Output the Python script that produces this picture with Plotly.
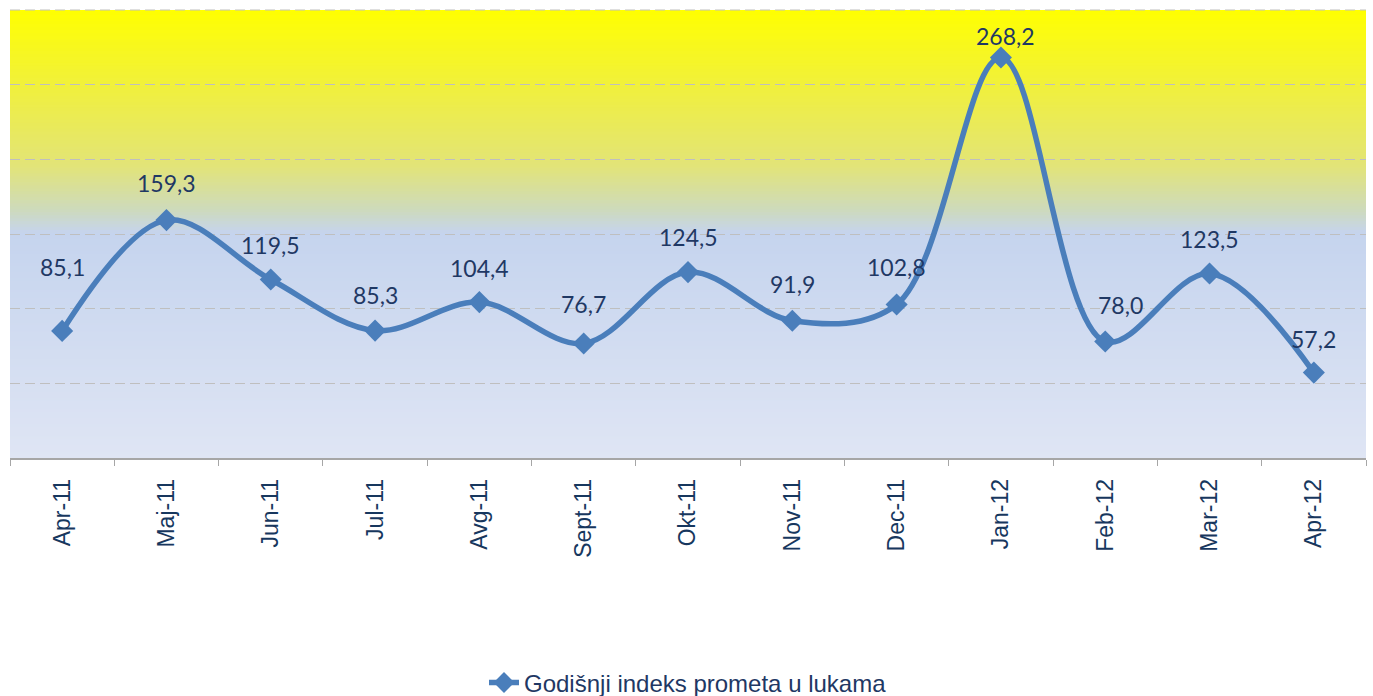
import plotly.graph_objects as go

categories = ["Apr-11", "Maj-11", "Jun-11", "Jul-11", "Avg-11", "Sept-11", "Okt-11",
              "Nov-11", "Dec-11", "Jan-12", "Feb-12", "Mar-12", "Apr-12"]
values = [85.1, 159.3, 119.5, 85.3, 104.4, 76.7, 124.5, 91.9, 102.8, 268.2, 78.0, 123.5, 57.2]
series_name = "Godišnji indeks prometa u lukama"

# label offsets (px) relative to each point
label_yshift = [64, 37, 35, 36, 34, 39, 35, 37, 37, 21, 37, 35, 34]
label_xshift = [0, 0, 0, 0, 0, 0, 0, 0, 0, 5, 15, 0, 0]

line_color = "#4a7ebb"
label_color = "#1f3864"
grid_color = "#bfbfbf"
grid_dash = "10px,5px"

fig = go.Figure()
fig.add_trace(go.Scatter(
    x=categories, y=values, mode="lines+markers", name=series_name,
    line=dict(color=line_color, width=5.5, shape="spline", smoothing=1.0),
    marker=dict(symbol="diamond", size=17, color=line_color),
))

def fmt(v):
    return f"{v:.1f}".replace(".", ",")

annotations = []
for c, v, ys, xs in zip(categories, values, label_yshift, label_xshift):
    annotations.append(dict(x=c, y=v, xref="x", yref="y", text=fmt(v), showarrow=False,
                            yshift=ys, xshift=xs,
                            font=dict(family="Lato", size=23, color=label_color)))

# gradient background
stops = [(0.0, (255, 255, 0)), (0.2, (238, 238, 70)), (0.35, (226, 228, 120)),
         (0.45, (205, 218, 190)), (0.5, (197, 212, 238)), (1.0, (223, 229, 244))]
def col(t):
    for (t0, c0), (t1, c1) in zip(stops[:-1], stops[1:]):
        if t0 <= t <= t1:
            f = (t - t0) / (t1 - t0) if t1 > t0 else 0
            return "rgb(%d,%d,%d)" % tuple(round(a + (b - a) * f) for a, b in zip(c0, c1))
    return "rgb(%d,%d,%d)" % stops[-1][1]

shapes = []
N = 150
for i in range(N):
    y1 = 1 - i / N
    y0 = 1 - (i + 1) / N
    t = (i + 0.5) / N
    shapes.append(dict(type="rect", xref="paper", yref="paper", x0=0, x1=1, y0=y0,
                       y1=min(1, y1 + 0.002),
                       fillcolor=col(t), line=dict(width=0), layer="below"))
# top gridline at the upper edge of the value range
shapes.append(dict(type="line", xref="paper", yref="paper", x0=0, x1=1, y0=1, y1=1,
                   line=dict(color=grid_color, width=1.2, dash=grid_dash), layer="below"))

fig.update_layout(
    width=1373, height=696,
    margin=dict(l=10, r=7, t=10, b=238, autoexpand=False),
    paper_bgcolor="white", plot_bgcolor="rgba(0,0,0,0)",
    shapes=shapes, annotations=annotations,
    showlegend=True,
    legend=dict(orientation="h", x=0.5, xanchor="center", y=-0.502, yanchor="middle",
                font=dict(family="Liberation Sans, Arial", size=24, color=label_color),
                bgcolor="rgba(0,0,0,0)"),
    xaxis=dict(type="category", range=[-0.5, 12.5], tickangle=-90, ticks="outside",
               tickson="boundaries", ticklen=6, tickcolor="#a6a6a6", showline=True,
               linecolor="#a6a6a6", linewidth=1.5, showgrid=False, automargin=False,
               ticklabelstandoff=10,
               tickfont=dict(family="Liberation Sans, Arial", size=23, color="#17375e")),
    yaxis=dict(range=[0, 300], dtick=50, showticklabels=False, showgrid=True,
               gridcolor=grid_color, griddash=grid_dash, gridwidth=1.2, zeroline=False,
               showline=False, automargin=False),
)

fig.write_html("out.html", config={"displayModeBar": False},
               post_script="document.body.style.margin='0';document.body.style.overflow='hidden';")
